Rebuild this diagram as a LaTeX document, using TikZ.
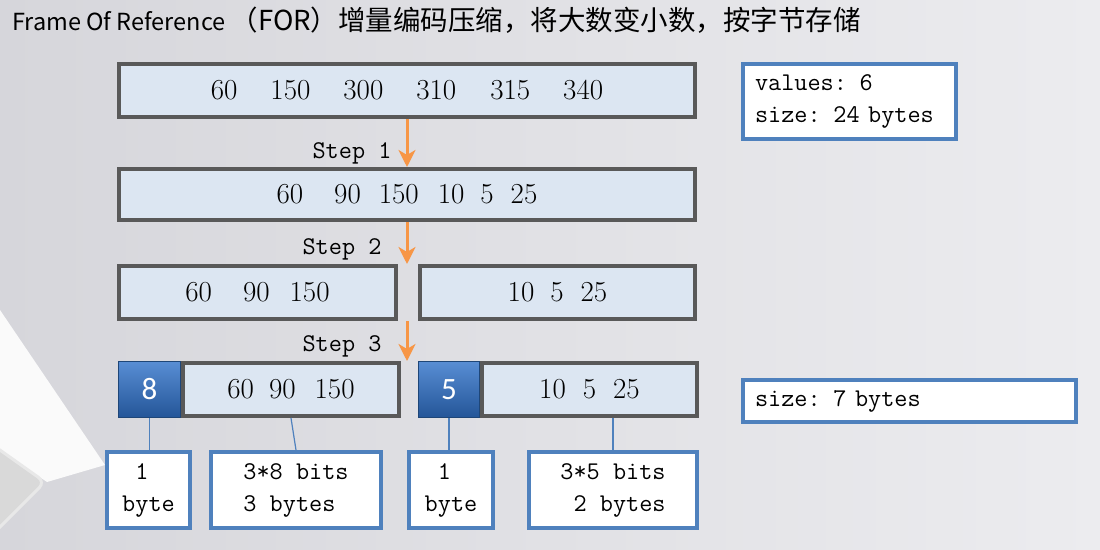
\documentclass[tikz,border=0pt]{standalone}
\usepackage{fontspec}
\newfontfamily\cjkfont{Noto Sans CJK SC}
\newfontfamily\keyfont{Carlito}
\usetikzlibrary{arrows.meta,positioning}

\definecolor{bgleft}{RGB}{214,214,219}
\definecolor{bgright}{RGB}{236,236,239}
\definecolor{rowfill}{RGB}{220,230,242}
\definecolor{rowline}{RGB}{89,89,89}
\definecolor{accent}{RGB}{79,129,189}
\definecolor{flow}{RGB}{247,150,70}
\definecolor{keytop}{RGB}{88,141,212}
\definecolor{keybot}{RGB}{36,86,152}
\definecolor{keyline}{RGB}{30,70,120}
\newcommand\numgap[1]{\hspace{#1pt}}

\begin{document}
\begin{tikzpicture}[x=1pt,y=-1pt,
  row/.style={draw=rowline,fill=rowfill,line width=4pt,inner sep=0pt,minimum height=53pt,font=\fontsize{29}{32}\selectfont},
  key/.style={draw=keyline,line width=1.2pt,top color=keytop,bottom color=keybot,text=white,inner sep=0pt,minimum height=56pt,font=\fontsize{31}{34}\keyfont},
  note/.style={draw=accent,fill=white,line width=4pt,align=left,font=\fontsize{25.5}{32}\ttfamily},
  steplabel/.style={inner sep=0pt,font=\fontsize{25.5}{32}\ttfamily},
  flowarrow/.style={draw=flow,line width=3pt,-{Stealth[length=17pt,width=17pt,inset=5pt]}},
  link/.style={draw=accent,line width=1.2pt}]
  % background
  \fill[left color=bgleft,right color=bgright] (0,0) rectangle (1100,549);
  \useasboundingbox (0,0) rectangle (1100,549);
  \fill[white!96!gray] (0,310) -- (105,465) -- (47,482) -- (0,450) -- cycle;
  \draw[line width=3pt,draw=white!82!gray,fill=gray!30,rounded corners=8pt] (-10,443) -- (45,482) -- (-10,537);

  \node[anchor=west,inner sep=0pt] (title) at (12,20) {\fontsize{23.5}{26}\cjkfont Frame Of Reference \fontsize{27.5}{30}\selectfont （FOR）增量编码压缩，将大数变小数，按字节存储};

  \node[row,minimum width=576pt] (row1) at (407,90.5) {60\numgap{33}150\numgap{33}300\numgap{33}310\numgap{34}315\numgap{33}340};
  \node[row,minimum width=576pt,minimum height=51pt] (row2) at (407,194.5) {60\numgap{31}90\numgap{18}150\numgap{19}10\numgap{16}5\numgap{17}25};
  \node[row,minimum width=277pt] (left3) at (257.5,292.5) {60\numgap{31}90\numgap{20}150};
  \node[row,minimum width=275pt] (right3) at (557.5,292.5) {10\numgap{16}5\numgap{17}25};
  \node[row,minimum width=216pt] (v8) at (291,389.5) {60\numgap{15}90\numgap{19}150\numgap{12}};
  \node[row,minimum width=215pt] (v5) at (589.5,389.5) {10\numgap{17}5\numgap{17}25\numgap{20}};
  \node[key,minimum width=62pt] (k8) at (149.5,389.5) {8};
  \node[key,minimum width=61pt] (k5) at (449,389.5) {5};

  \node[note,inner xsep=12pt,text width=189pt,minimum height=75pt] (info1) at (849.5,101.5) {values: 6\\size: 24 bytes};
  \node[note,inner xsep=12pt,text width=309pt,minimum height=42pt] (info2) at (909.5,401) {size: 7 bytes};

  \node[note,minimum width=83pt,minimum height=76pt] (b1) at (148.5,490) {\hphantom{b}1\\byte};
  \node[note,minimum width=170pt,minimum height=76pt] (b2) at (296,490) {3*8 bits\\3 bytes};
  \node[note,minimum width=84pt,minimum height=76pt] (b3) at (451,490) {\hphantom{b}1\\byte};
  \node[note,minimum width=168pt,minimum height=76pt] (b4) at (613,490) {3*5 bits\\\hphantom{3}2 bytes};

  \node[steplabel] (s1) at (352,153) {Step 1};
  \node[steplabel] (s2) at (342,249) {Step 2};
  \node[steplabel] (s3) at (342,346) {Step 3};
  \draw[flowarrow] (row1.south) -- (row2.north);
  \draw[flowarrow] (row2.south) -- (row2.south |- left3.north);
  \draw[flowarrow] (row2.south |- left3.south) -- (row2.south |- v8.north);

  \draw[link] (k8.south) -- (k8.south |- b1.north);
  \draw[link] (v8.south) -- (b2.north);
  \draw[link] (k5.south) -- (k5.south |- b3.north);
  \draw[link] (b4.north |- v5.south) -- (b4.north);
\end{tikzpicture}
\end{document}
